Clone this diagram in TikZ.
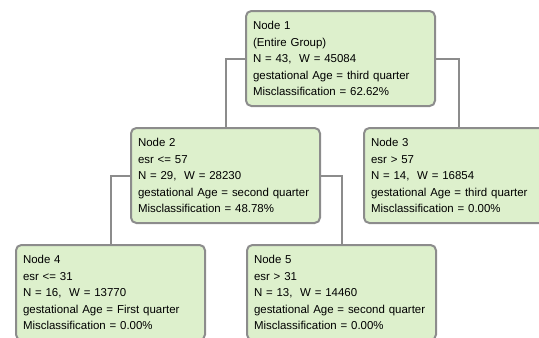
\documentclass[tikz,border=0pt]{standalone}
\usepackage{fontspec}
\setmainfont{Liberation Sans}
\hyphenpenalty=10000
\definecolor{nodefill}{RGB}{221,240,204}
\definecolor{nodeline}{RGB}{140,140,140}
\tikzset{
  treenode/.style={draw=nodeline, line width=1.5pt, fill=nodefill, rounded corners=4pt,
    anchor=north west, align=left, text width=131.25pt, inner xsep=5.25pt, inner ysep=0pt,
    minimum height=71.25pt, font=\fontsize{8.6pt}{12.4pt}\selectfont},
  treelink/.style={draw=nodeline, line width=1.5pt}
}

\begin{document}
\begin{tikzpicture}[x=0.75pt,y=-0.75pt]
\useasboundingbox (0,0) rectangle (539,337);
\node[treenode] (n1) at (245,10) {Node 1\\(Entire Group)\\N = 43, \ W = 45084\\gestational Age = third quarter\\Misclassification = 62.62\%};
\node[treenode] (n2) at (130,127) {Node 2\\esr <= 57\\N = 29, \ W = 28230\\gestational Age = second quarter\\Misclassification = 48.78\%};
\node[treenode] (n3) at (363,127) {Node 3\\esr > 57\\N = 14, \ W = 16854\\gestational Age = third quarter\\Misclassification = 0.00\%};
\node[treenode] (n4) at (15,244) {Node 4\\esr <= 31\\N = 16, \ W = 13770\\gestational Age = First quarter\\Misclassification = 0.00\%};
\node[treenode] (n5) at (246,244) {Node 5\\esr > 31\\N = 13, \ W = 14460\\gestational Age = second quarter\\Misclassification = 0.00\%};
\draw[treelink] (n1.west) -| (n2.north);
\draw[treelink] (n1.east) -| (n3.north);
\draw[treelink] (n2.west) -| (n4.north);
\draw[treelink] (n2.east) -| (n5.north);
\end{tikzpicture}
\end{document}
